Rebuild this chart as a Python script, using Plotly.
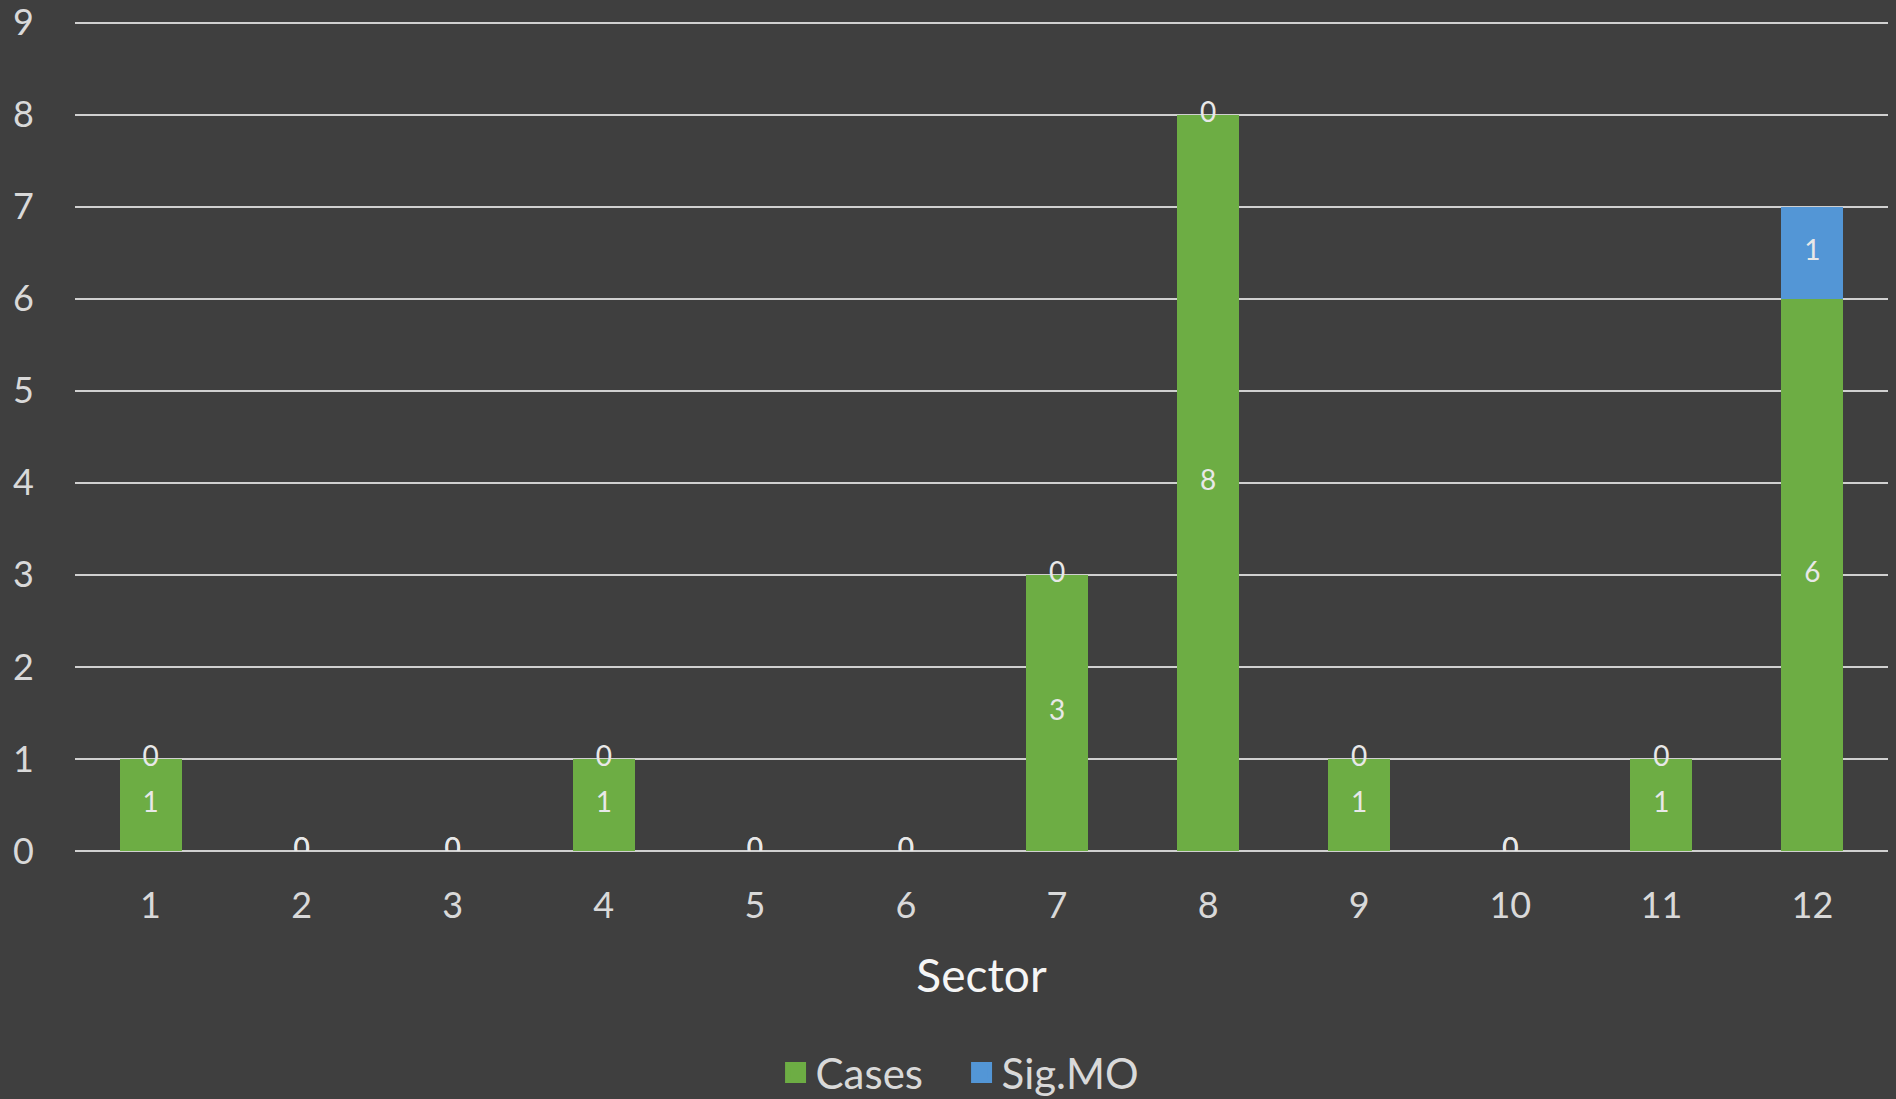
import plotly.graph_objects as go

sectors = [1, 2, 3, 4, 5, 6, 7, 8, 9, 10, 11, 12]
cases = [1, 0, 0, 1, 0, 0, 3, 8, 1, 0, 1, 6]
sig_mo = [0, 0, 0, 0, 0, 0, 0, 0, 0, 0, 0, 1]
y_ticks = [0, 1, 2, 3, 4, 5, 6, 7, 8, 9]
series_names = ["Cases", "Sig.MO"]

GREEN = "#6DAD44"
BLUE = "#5396D6"
BG = "#3F3F3F"
TXT = "#D9D9D9"
FONT = "Lato, Open Sans, sans-serif"

x_labels = [str(s) for s in sectors]

fig = go.Figure()
fig.add_trace(go.Bar(x=x_labels, y=cases, name=series_names[0], showlegend=False,
                     marker=dict(color=GREEN, line=dict(width=0))))
fig.add_trace(go.Bar(x=x_labels, y=sig_mo, name=series_names[1], showlegend=False,
                     marker=dict(color=BLUE, line=dict(width=0))))

# data labels
fig.add_trace(go.Scatter(x=x_labels, y=[c / 2 for c in cases], mode="text",
                         text=[str(c) for c in cases], showlegend=False,
                         textfont=dict(family=FONT, size=28, color="#E8E8E8"),
                         hoverinfo="skip"))
fig.add_trace(go.Scatter(x=x_labels, y=[c + s / 2 for c, s in zip(cases, sig_mo)],
                         mode="text", text=[str(s) for s in sig_mo], showlegend=False,
                         textfont=dict(family=FONT, size=28, color="#E8E8E8"),
                         hoverinfo="skip"))

# legend entries (square swatches)
for name, col in zip(series_names, [GREEN, BLUE]):
    fig.add_trace(go.Scatter(x=[None], y=[None], mode="markers", name=name,
                             marker=dict(symbol="square", size=16, color=col,
                                         line=dict(width=5, color=col))))

fig.update_layout(
    barmode="stack",
    bargap=0.59,
    width=1896, height=1099,
    paper_bgcolor=BG, plot_bgcolor=BG,
    margin=dict(l=75, r=8, t=18, b=248),
    font=dict(family=FONT, color=TXT),
    legend=dict(orientation="h", x=0.489, xanchor="center",
                yref="container", y=0.024, yanchor="middle",
                font=dict(size=42, color=TXT), traceorder="normal",
                itemsizing="trace", itemwidth=30,
                entrywidth=141, entrywidthmode="pixels"),
    xaxis=dict(
        range=[-0.5, 11.5], automargin=False,
        title=dict(text="Sector", font=dict(size=46, color="#F5F5F5"), standoff=34),
        tickfont=dict(size=36, color=TXT),
        ticklabelstandoff=30,
        showgrid=False, showline=False, zeroline=False,
    ),
    yaxis=dict(
        range=[0, 9.05], tickvals=y_ticks, automargin=False,
        tickfont=dict(size=36, color=TXT),
        ticklabelstandoff=40, ticklabeloverflow="allow",
        showgrid=True, gridcolor="#D0D0D0", gridwidth=2,
        zeroline=True, zerolinecolor="#D0D0D0", zerolinewidth=2,
        showline=False,
    ),
)

fig.write_html("out.html", config={"displayModeBar": False},
               post_script="document.body.style.margin='0';document.body.style.overflow='hidden';")
